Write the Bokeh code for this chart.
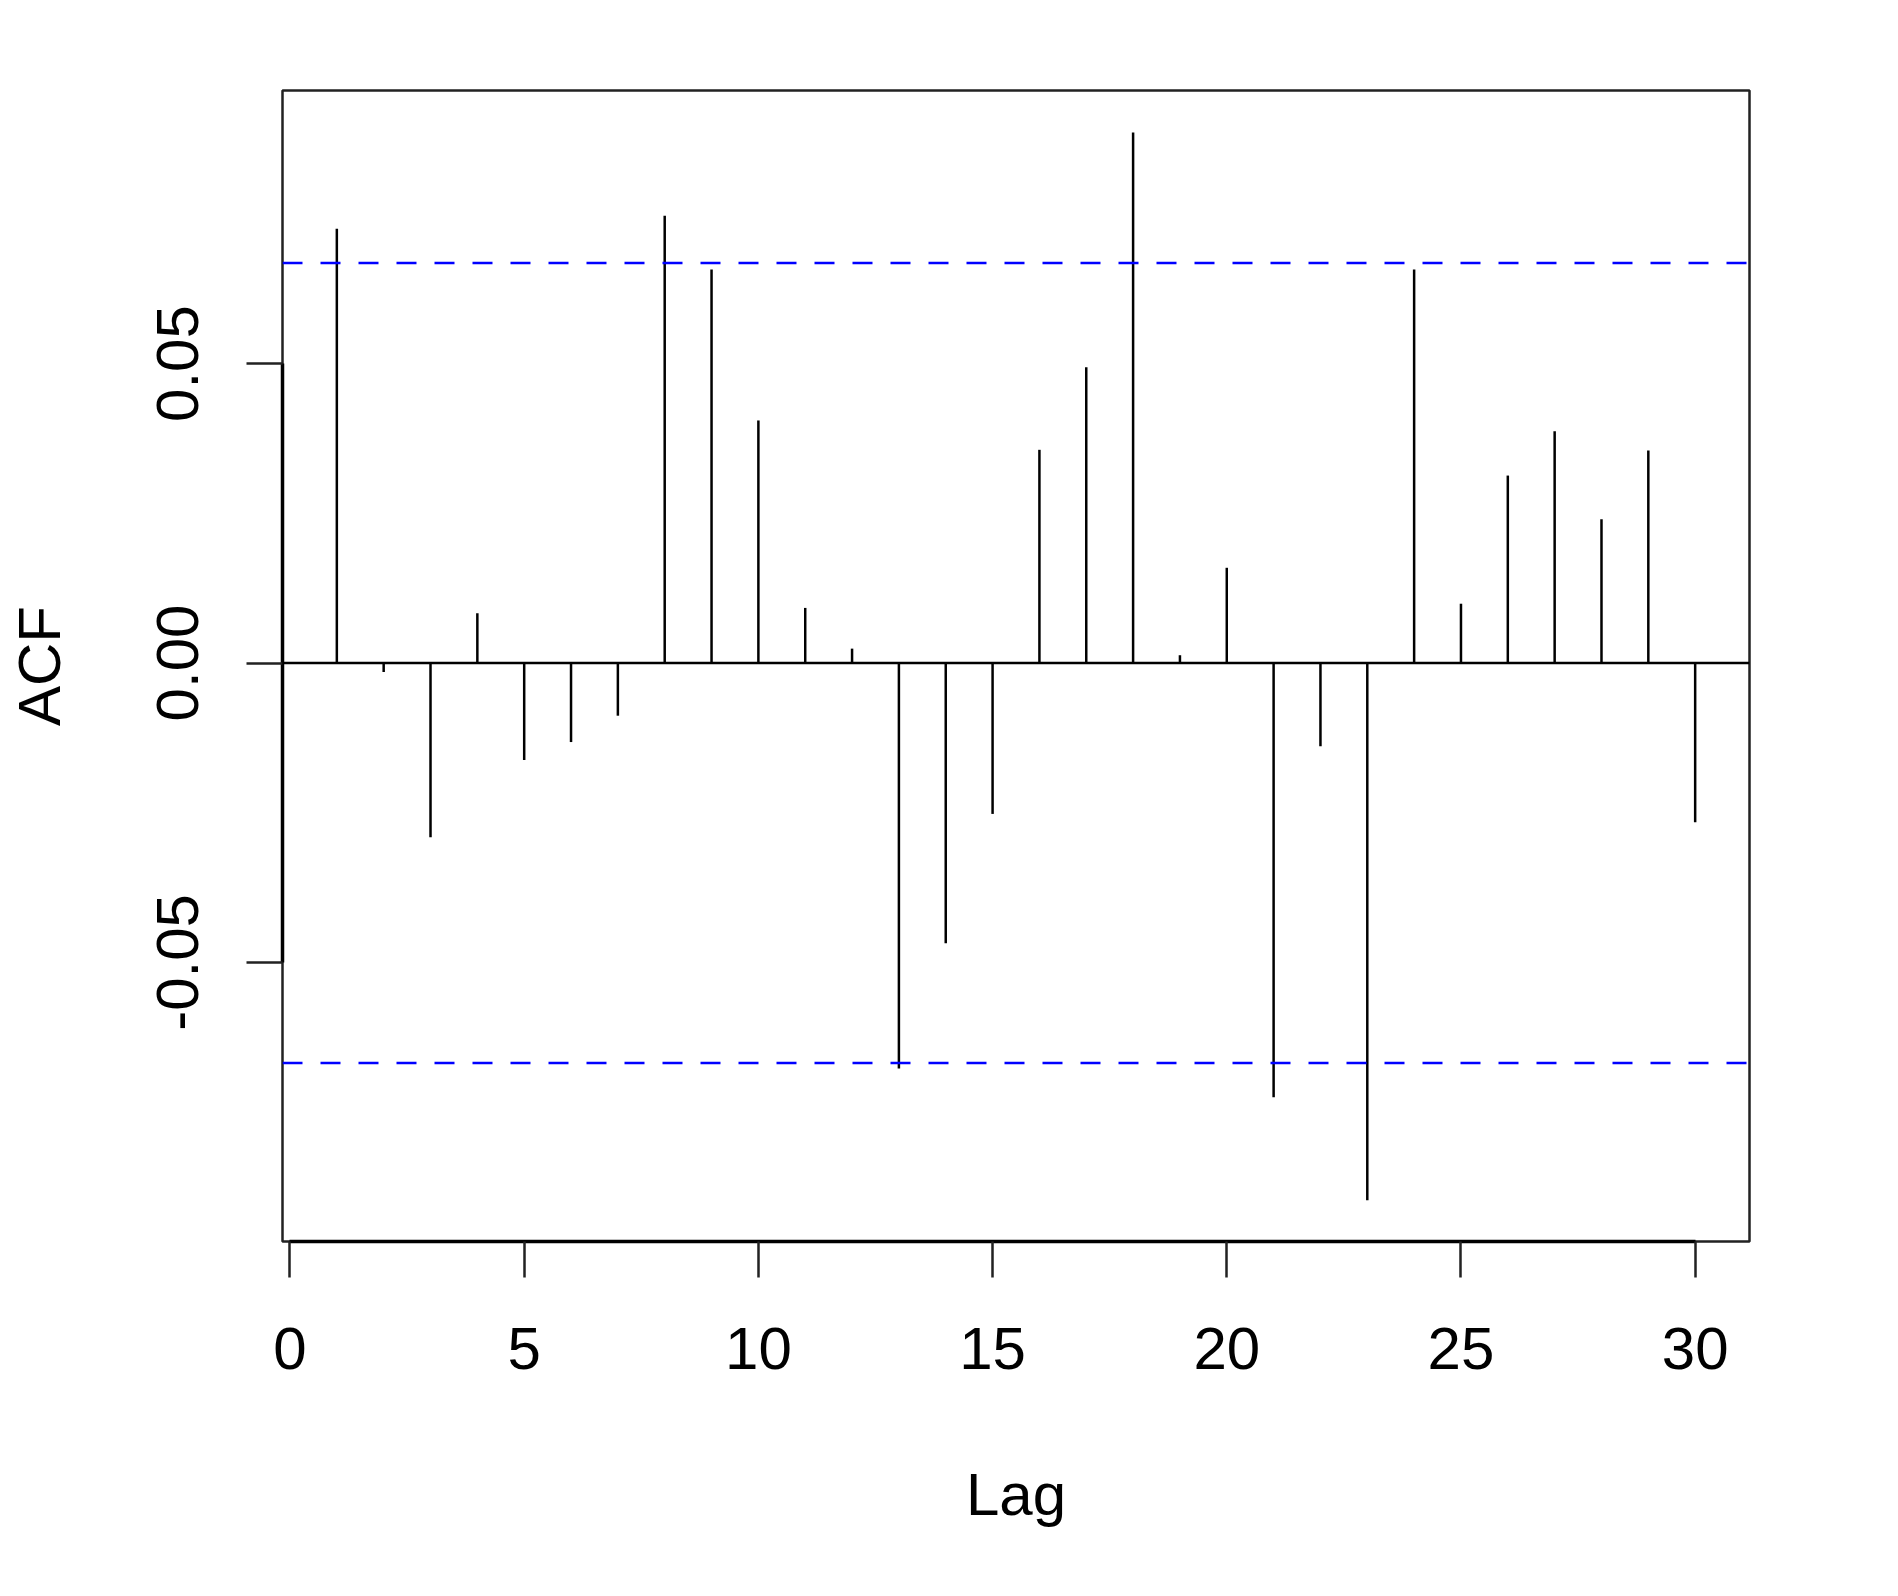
from bokeh.plotting import figure
from bokeh.models import Range1d, FixedTicker, Span, ColumnDataSource
from bokeh.embed import file_html
from bokeh.resources import INLINE

lags = list(range(1, 31))
acf = [0.0725, -0.0015, -0.0291, 0.0083, -0.0162, -0.0132, -0.0088, 0.0747,
       0.0657, 0.0405, 0.0092, 0.0024, -0.0677, -0.0468, -0.0252, 0.0356,
       0.0494, 0.0886, 0.0013, 0.0159, -0.0725, -0.0139, -0.0897, 0.0657,
       0.0099, 0.0313, 0.0387, 0.0240, 0.0355, -0.0266]
ci = 0.0668
x_ticks = [0, 5, 10, 15, 20, 25, 30]
y_ticks = [-0.05, 0.0, 0.05]
y_labels = {-0.05: "-0.05", 0.0: "0.00", 0.05: "0.05"}

FONT = "Liberation Sans"

p = figure(frame_width=1467, frame_height=1151,
           min_border_left=282, min_border_top=90,
           min_border_right=140, min_border_bottom=320,
           x_range=Range1d(-0.16, 31.16), y_range=Range1d(-0.0966, 0.0956),
           output_backend="svg", toolbar_location=None,
           background_fill_color="white", border_fill_color="white")

p.xgrid.visible = False
p.ygrid.visible = False
p.outline_line_color = "#222222"
p.outline_line_width = 2.5

src = ColumnDataSource(dict(lag=lags, acf=acf, zero=[0.0] * len(lags)))
p.segment(x0="lag", y0="zero", x1="lag", y1="acf", source=src,
          line_color="black", line_width=2.5)

p.add_layout(Span(location=0, dimension="width", line_color="black", line_width=2.5))
for loc in (ci, -ci):
    p.add_layout(Span(location=loc, dimension="width", line_color="#0000FF",
                      line_width=2.5, line_dash="20 18"))

xa = p.xaxis[0]
xa.ticker = FixedTicker(ticks=x_ticks)
xa.bounds = (0, 30)
xa.axis_line_width = 3.5
xa.axis_line_color = "black"
xa.major_tick_out = 36
xa.major_tick_in = 0
xa.major_tick_line_width = 2.5
xa.major_tick_line_color = "#222222"
xa.minor_tick_line_color = None
xa.major_label_text_font = FONT
xa.major_label_text_font_size = "60px"
xa.major_label_text_color = "black"
xa.major_label_standoff = 50
xa.axis_label = "Lag"
xa.axis_label_text_font = FONT
xa.axis_label_text_font_size = "60px"
xa.axis_label_text_font_style = "normal"
xa.axis_label_text_color = "black"
xa.axis_label_standoff = 89

ya = p.yaxis[0]
ya.ticker = FixedTicker(ticks=y_ticks)
ya.major_label_overrides = y_labels
ya.bounds = (-0.05, 0.05)
ya.axis_line_width = 3.5
ya.axis_line_color = "black"
ya.major_tick_out = 36
ya.major_tick_in = 0
ya.major_tick_line_width = 2.5
ya.major_tick_line_color = "#222222"
ya.minor_tick_line_color = None
ya.major_label_orientation = "vertical"
ya.major_label_text_font = FONT
ya.major_label_text_font_size = "60px"
ya.major_label_text_color = "black"
ya.major_label_standoff = 48
ya.axis_label = "ACF"
ya.axis_label_text_font = FONT
ya.axis_label_text_font_size = "60px"
ya.axis_label_text_font_style = "normal"
ya.axis_label_text_color = "black"
ya.axis_label_standoff = 82

open("out.html", "w").write(file_html(p, INLINE))
